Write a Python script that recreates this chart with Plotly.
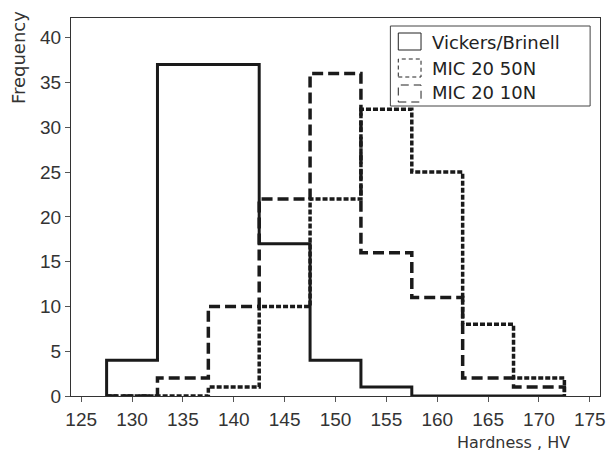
import plotly.graph_objects as go

# ---- data ----
bin_centers = [130, 135, 140, 145, 150, 155, 160, 165, 170]
bin_width = 5
vickers = [4, 37, 37, 17, 4, 1, 0, 0, 0]
mic_50n = [0, 0, 1, 10, 22, 32, 25, 8, 2]
mic_10n = [0, 2, 10, 22, 36, 16, 11, 2, 1]
series_names = ["Vickers/Brinell", "MIC 20 50N", "MIC 20 10N"]
x_ticks = [125, 130, 135, 140, 145, 150, 155, 160, 165, 170, 175]
y_ticks = [0, 5, 10, 15, 20, 25, 30, 35, 40]

W, H = 614, 451
L, R, T, B = 71, 8, 18, 55
PW, PH = W - L - R, H - T - B


def px(x):
    return (x - L) / PW


def py(y):
    return (H - B - y) / PH


def step(counts):
    edges = [c - bin_width / 2 for c in bin_centers] + [bin_centers[-1] + bin_width / 2]
    xs = [edges[0]] + edges[:-1] + [edges[-1], edges[-1]]
    ys = [0] + counts + [counts[-1], 0]
    return xs, ys


styles = [
    dict(dash="solid", width=3),
    dict(dash="5px,2px", width=3.5),
    dict(dash="11px,5px", width=3.5),
]

fig = go.Figure()
for name, counts, st in zip(series_names, [vickers, mic_50n, mic_10n], styles):
    xs, ys = step(counts)
    fig.add_trace(go.Scatter(
        x=xs, y=ys, mode="lines", name=name, line_shape="hv",
        line=dict(color="#1a1a1a", width=st["width"], dash=st["dash"]),
        cliponaxis=False, showlegend=False,
    ))

tick_font = dict(family="Liberation Sans, Arial, sans-serif", size=19, color="#333333")
fig.update_layout(
    width=W, height=H,
    margin=dict(l=L, r=R, t=T, b=B),
    paper_bgcolor="white", plot_bgcolor="white",
    xaxis=dict(range=[124, 176], tickvals=x_ticks, ticks="outside", ticklen=5,
               tickcolor="#555", showgrid=False, zeroline=False, showline=True,
               linecolor="#333", linewidth=1, mirror=True, tickfont=tick_font,
               ticklabelstandoff=1),
    yaxis=dict(range=[0, 42.2], tickvals=y_ticks, ticks="outside", ticklen=5,
               tickcolor="#555", showgrid=False, zeroline=False, showline=True,
               linecolor="#333", linewidth=1, mirror=True, tickfont=tick_font),
    showlegend=False,
)

fig.add_annotation(text="Hardness , HV", xref="paper", yref="paper",
                   x=px(578), y=py(442), xanchor="right", yanchor="middle",
                   showarrow=False,
                   font=dict(family="DejaVu Sans, Verdana, sans-serif", size=16, color="#333333"))
fig.add_annotation(text="Frequency", xref="paper", yref="paper",
                   x=px(18), y=py(9), xanchor="center", yanchor="top",
                   textangle=-90, showarrow=False,
                   font=dict(family="DejaVu Sans, Verdana, sans-serif", size=18, color="#333333"))

# legend (drawn)
shapes = [dict(type="rect", xref="paper", yref="paper",
               x0=px(394), x1=px(596), y0=py(106), y1=py(26),
               line=dict(color="#444", width=1), fillcolor="white")]
rows = [(33, 50, 42), (59, 77, 68), (85, 102, 93)]
leg_dash = ["solid", "4px,3px", "8px,5px"]
for (y0, y1, yc), d, name in zip(rows, leg_dash, series_names):
    shapes.append(dict(type="rect", xref="paper", yref="paper",
                       x0=px(402), x1=px(425), y0=py(y1), y1=py(y0),
                       line=dict(color="#222", width=1, dash=d)))
    fig.add_annotation(text=name, xref="paper", yref="paper",
                       x=px(434), y=py(yc), xanchor="left", yanchor="middle",
                       showarrow=False,
                       font=dict(family="DejaVu Sans, Verdana, sans-serif", size=18, color="#222"))
fig.update_layout(shapes=shapes)

fig.write_html("out.html")
